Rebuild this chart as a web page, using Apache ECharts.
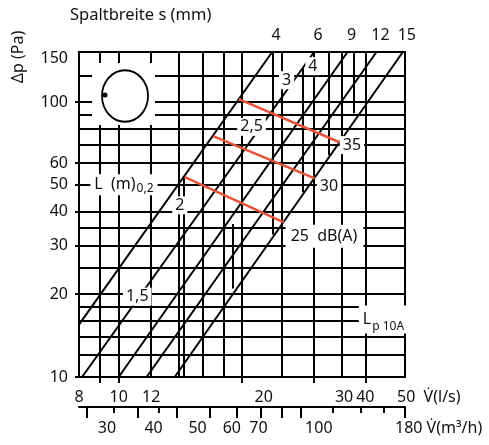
<!DOCTYPE html>
<html>
<head>
<meta charset="utf-8">
<title>Spaltbreite Diagramm</title>
<script src="https://cdn.jsdelivr.net/npm/echarts@6.0.0/dist/echarts.min.js"></script>
<style>
html, body { margin: 0; padding: 0; background: #fff; }
#chart { width: 489px; height: 445px; }
</style>
</head>
<body>
<div id="chart"></div>
<script>
// axis ranges
var vMin = 8, vMax = 50        // l/s
var pMin = 10, pMax = 152      // Pa
var qMin = 28.8, qMax = 180    // m3/h

// grid lines
var gridV = [9, 10, 12, 14, 16, 18, 20, 25, 30, 35, 40]
var gridP = [12, 14, 16, 18, 20, 25, 30, 35, 40, 50, 60, 70, 80, 90, 100, 125]

// Spaltbreite s (mm) lines, Δp ~ V²
var slotWidths = ['4', '6', '9', '12', '15']
var slotStart = [[8, 15.5], [8.14, 10], [10, 10], [11.7, 10], [13.7, 10]]
var slotEnd = [[23.7, 152], [30, 152], [36.2, 152], [42.6, 152], [49.4, 152]]

// Lp10A lines dB(A)
var dbLevels = ['35', '30', '25  dB(A)']
var dbStart = [[19.65, 102.5], [17.0, 75.1], [14.5, 53.3]]
var dbEnd = [[34.6, 71.4], [30.1, 52.8], [25.3, 36.5]]
var dbLabelAt = [[37.1, 69.7], [32.6, 49.4], [31.8, 32.5]]

// Wurfweite L (m)0,2
var throwV = [14.4, 19.0, 23.8, 28.1, 32.6, 37.5]
var throwTop = [53, 36, 152, 133, 152, 152]
var throwBottom = [10, 21, 33, 47, 64, 91]
var throwLabels = ['1,5', '2', '2,5', '3', '4']
var throwLabelAt = [[11.1, 19.6], [14.1, 42.1], [21.1, 81.2], [25.7, 120], [29.8, 135]]

// tick labels
var pTicks = [10, 20, 30, 40, 50, 60, 100]
var pLabels = ['10', '20', '30', '40', '50', '60', '100', '150']
var pLabelAt = [10, 20, 30, 40, 50, 60, 100, 150]
var vTicks = [9, 10, 20, 30, 40]
var vLabels = ['8', '10', '12', '20', '30', '40', '50  V\u0307(l/s)']
var vLabelAt = [8, 10, 12, 22.6, 35.5, 40, 50]
var qTicks = [30, 40, 50, 60, 70, 80, 90, 100, 180]
var qMinorTicks = [35, 45, 120, 140, 160]
var qLabels = ['30', '40', '50', '60', '70', '100', '180 V\u0307(m\u00b3/h)']
var qLabelAt = [33.7, 43.8, 56.1, 68, 79, 110.9, 180]

var FONT = 'Noto Sans'
var FS = 16

function seg (a, b) { return { coords: [a, b] } }

var gridLines = []
gridV.forEach(function (v) { gridLines.push(seg([v, pMin], [v, pMax])) })
gridP.forEach(function (p) { gridLines.push(seg([vMin, p], [vMax, p])) })
var slotLines = slotStart.map(function (a, i) { return seg(a, slotEnd[i]) })
var dbLines = dbStart.map(function (a, i) { return seg(a, dbEnd[i]) })
var throwLines = throwV.map(function (v, i) { return seg([v, throwTop[i]], [v, throwBottom[i]]) })

function lineSeries (data, color, width, z) {
  return {
    type: 'lines', coordinateSystem: 'cartesian2d', data: data, silent: true, z: z,
    lineStyle: { color: color, width: width, opacity: 1, curveness: 0 }
  }
}

function textSeries (pos, texts, label, xIdx, z) {
  return {
    type: 'scatter', xAxisIndex: xIdx || 0, yAxisIndex: 0, symbolSize: 1, silent: true, z: z || 10,
    itemStyle: { color: 'rgba(0,0,0,0)', opacity: 1 },
    data: pos.map(function (c, i) { return { value: c, label: { formatter: texts[i] } } }),
    label: Object.assign({ show: true, position: 'inside', color: '#111', fontFamily: FONT, fontSize: FS }, label)
  }
}

var yText = textSeries(pLabelAt.map(function (p) { return [vMin, p] }), pLabels, { align: 'right', offset: [-11, 0] })
yText.data[7].label.offset = [-11, 5]

var vText = textSeries(vLabelAt.map(function (v) { return [v, pMin] }), vLabels, { offset: [0, 20] })
vText.data[6].label.align = 'left'
vText.data[6].label.offset = [-8, 20]

var qText = textSeries(qLabelAt.map(function (q) { return [q, pMin] }), qLabels, { offset: [0, 51] }, 1)
qText.data[6].label.align = 'left'
qText.data[6].label.offset = [-10, 51]

var slotText = textSeries(slotEnd, slotWidths, { offset: [4, -17] })

var boxLabel = { backgroundColor: '#fff', padding: [1, 3] }
var throwText = textSeries(throwLabelAt, throwLabels, boxLabel, 0, 12)
var dbText = textSeries(dbLabelAt, dbLevels, boxLabel, 0, 12)
dbText.data[2].label.padding = [5, 6, 2, 5]

var noteText = textSeries([[10.3, 50], [44.3, 16.2]], ['{a|L  (m)}{b|0,2}', '{a|L}{c|p 10A}'], {
  backgroundColor: '#fff', padding: [1, 4],
  rich: {
    a: { fontFamily: FONT, fontSize: FS, color: '#111' },
    b: { fontFamily: FONT, fontSize: 12, color: '#111', padding: [7, 0, 0, 1] },
    c: { fontFamily: FONT, fontSize: 12, color: '#111', padding: [14, 0, 0, 1] }
  }
}, 0, 12)

var chart = echarts.init(document.getElementById('chart'))
chart.setOption({
  animation: false,
  backgroundColor: '#fff',
  grid: {
    left: 79, top: 52, width: 326, height: 325,
    show: true, borderColor: '#000', borderWidth: 2, backgroundColor: 'transparent',
    containLabel: false, outerBoundsMode: 'none'
  },
  xAxis: [
    {
      type: 'log', logBase: 10, min: vMin, max: vMax, position: 'bottom',
      axisLine: { show: false },
      axisTick: { show: true, customValues: vTicks, length: 6, lineStyle: { color: '#000', width: 2 } },
      axisLabel: { show: false }, splitLine: { show: false }
    },
    {
      type: 'log', logBase: 10, min: qMin, max: qMax, position: 'bottom', offset: 30,
      axisLine: { show: true, lineStyle: { color: '#000', width: 2 } },
      axisTick: { show: true, customValues: qTicks, length: 11, lineStyle: { color: '#000', width: 2 } },
      axisLabel: { show: false }, splitLine: { show: false }
    },
    {
      type: 'log', logBase: 10, min: qMin, max: qMax, position: 'bottom', offset: 30,
      axisLine: { show: false },
      axisTick: { show: true, customValues: qMinorTicks, length: 6, lineStyle: { color: '#000', width: 2 } },
      axisLabel: { show: false }, splitLine: { show: false }
    }
  ],
  yAxis: [
    {
      type: 'log', logBase: 10, min: pMin, max: pMax,
      axisLine: { show: false },
      axisTick: { show: true, customValues: pTicks, length: 4, lineStyle: { color: '#000', width: 2 } },
      axisLabel: { show: false }, splitLine: { show: false }
    }
  ],
  graphic: [
    { type: 'rect', z: 30, shape: { x: 92, y: 63, width: 63, height: 62 }, style: { fill: '#fff' } },
    { type: 'circle', z: 31, x: 125, y: 96, scaleY: 1.12, shape: { cx: 0, cy: 0, r: 23 },
      style: { fill: 'none', stroke: '#000', lineWidth: 1.8 } },
    { type: 'circle', z: 31, shape: { cx: 105, cy: 95, r: 2.5 }, style: { fill: '#000' } },
    { type: 'text', z: 31, x: 18, y: 57, rotation: Math.PI / 2,
      style: { text: '\u0394p (Pa)', fill: '#111', font: FS + 'px "' + FONT + '"',
        align: 'center', verticalAlign: 'middle', textAlign: 'center', textVerticalAlign: 'middle' } },
    { type: 'text', z: 31, x: 70, y: 15,
      style: { text: 'Spaltbreite s (mm)', fill: '#111', font: '16.5px "' + FONT + '"',
        align: 'left', verticalAlign: 'middle', textAlign: 'left', textVerticalAlign: 'middle' } }
  ],
  series: [
    lineSeries(gridLines, '#000', 2, 1),
    lineSeries(throwLines, '#000', 2, 2),
    lineSeries(slotLines, '#000', 2, 3),
    lineSeries(dbLines, '#e5533b', 2.5, 4),
    throwText, dbText, noteText, slotText, yText, vText, qText
  ]
})
</script>
</body>
</html>
